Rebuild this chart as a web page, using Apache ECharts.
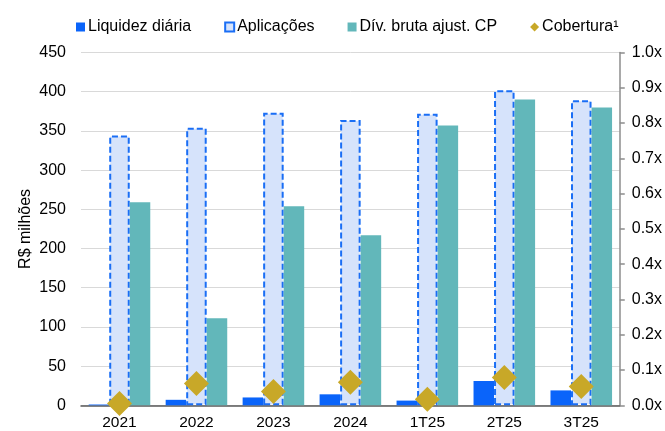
<!DOCTYPE html>
<html><head><meta charset="utf-8">
<script src="https://cdn.jsdelivr.net/npm/echarts@6/dist/echarts.min.js"></script>
<style>html,body{margin:0;padding:0;background:#fff}#c{width:665px;height:431px}</style>
</head><body><div id="c"></div>
<script>
const categories = ['2021','2022','2023','2024','1T25','2T25','3T25'];
const liquidez = [1, 7, 10, 14, 6, 31, 19];
const aplicacoes = [344, 354, 373, 364, 372, 402, 389];
const divBruta = [259, 111, 254, 217, 357, 390, 380];
const cobertura = [0.005, 0.062, 0.039, 0.065, 0.017, 0.079, 0.053];
const leftTicks = {min: 0, max: 450, interval: 50};
const rightTicks = {min: 0, max: 1.0, interval: 0.1};

const font = 'Liberation Sans, Arial, sans-serif';
const chart = echarts.init(document.getElementById('c'));
chart.setOption({
  animation: false,
  textStyle: {fontFamily: font},
  legend: {
    top: 14, left: 71, itemWidth: 9, itemHeight: 9, itemGap: 33,
    textStyle: {fontSize: 16, color: '#000', fontFamily: font, padding: [0,0,0,-2]},
    data: [
      {name: 'Liquidez diária', icon: 'rect'},
      {name: 'Aplicações', icon: 'rect'},
      {name: 'Dív. bruta ajust. CP', icon: 'rect'},
      {name: 'Cobertura¹', icon: 'diamond'}
    ]
  },
  grid: {left: 81, right: 44.5, top: 52.5, bottom: 25.7},
  xAxis: {
    type: 'category', data: categories,
    axisLine: {lineStyle: {color: '#595959', width: 1.5}},
    axisTick: {show: false},
    axisLabel: {color: '#000', fontSize: 15.5, fontFamily: font, margin: 9}
  },
  yAxis: [
    {
      type: 'value', min: leftTicks.min, max: leftTicks.max, interval: leftTicks.interval,
      name: 'R$ milhões', nameLocation: 'middle', nameGap: 47, nameRotate: 90,
      nameMoveOverlap: false,
      nameTextStyle: {color: '#000', fontSize: 16, fontFamily: font},
      axisLine: {show: false}, axisTick: {show: false},
      axisLabel: {color: '#000', fontSize: 16, fontFamily: font, margin: 15},
      splitLine: {lineStyle: {color: '#d9d9d9', width: 1}}
    },
    {
      type: 'value', min: rightTicks.min, max: rightTicks.max, interval: rightTicks.interval,
      position: 'right',
      axisLine: {show: true, lineStyle: {color: '#8c8c8c', width: 1.5}},
      axisTick: {show: true, length: 5, lineStyle: {color: '#8c8c8c', width: 1.5}},
      axisLabel: {color: '#000', fontSize: 16, fontFamily: font, margin: 12,
        formatter: v => v.toFixed(1) + 'x'},
      splitLine: {show: false}
    }
  ],
  series: [
    {name: 'Liquidez diária', type: 'bar', data: liquidez, barGap: '0%', barCategoryGap: '20%',
      itemStyle: {color: '#0A64FA'}},
    {name: 'Aplicações', type: 'bar', data: aplicacoes, barGap: '0%', barCategoryGap: '20%',
      itemStyle: {color: '#D6E3FB', borderColor: '#1A6EF5', borderWidth: 2, borderType: [6, 3]}},
    {name: 'Dív. bruta ajust. CP', type: 'bar', data: divBruta, barGap: '0%', barCategoryGap: '20%',
      itemStyle: {color: '#62B7BA'}},
    {name: 'Cobertura¹', type: 'scatter', yAxisIndex: 1, data: cobertura,
      symbol: 'diamond', symbolSize: 25, z: 5,
      itemStyle: {color: '#C8A828', opacity: 1}}
  ]
});
</script></body></html>
